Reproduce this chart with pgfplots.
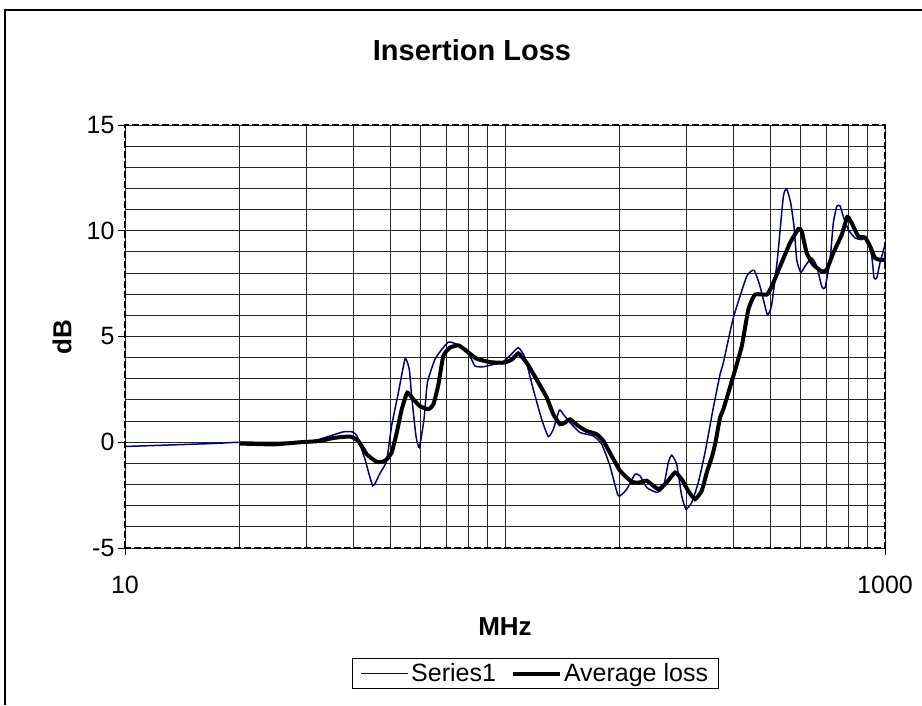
\documentclass[border=0pt]{standalone}
\usepackage{fontspec}
\setmainfont{Liberation Sans}
\usepackage{pgfplots}
\pgfplotsset{compat=1.18}
\definecolor{ser1}{RGB}{0,0,128}
\begin{document}
\begin{tikzpicture}
\path[use as bounding box] (-125pt,-157pt) rectangle (797pt,548pt);
\draw[line width=1.2pt] (-120pt,-157pt) -- (-120pt,538pt) -- (797pt,538pt);
\begin{axis}[
  at={(0pt,0pt)}, anchor=south west,
  scale only axis, width=760pt, height=423pt,
  xmode=log, xmin=10, xmax=1000, ymin=-5, ymax=15,
  xtick={10,1000}, xticklabels={10,1000},
  minor xtick={20,30,40,50,60,70,80,90,100,200,300,400,500,600,700,800,900},
  ytick={-5,0,5,10,15}, yticklabels={-5,0,5,10,15},
  minor ytick={-4,-3,-2,-1,1,2,3,4,6,7,8,9,11,12,13,14},
  xtick pos=left, ytick pos=left,
  grid=both,
  major grid style={black!85, line width=1pt},
  minor grid style={black!85, line width=1pt},
  tick align=outside, major tick length=7pt, minor tick length=0pt,
  tick style={black, solid, line width=1pt},
  axis line style={black, line width=1.3pt, dash pattern=on 7pt off 3pt},
  ticklabel style={font=\fontsize{25}{30}\selectfont},
  xticklabel style={yshift=-18pt},
  legend style={at={(0.540,-0.2967)}, anchor=center, draw=black, line width=1pt,
    font=\fontsize{25}{30}\selectfont, inner xsep=8pt, inner ysep=3pt},
  legend columns=2,
  legend cell align=left,
  legend image code/.code={\draw[#1] (0pt,0pt) -- (40pt,0pt); \path (0pt,0pt) -- (47pt,0pt);},
  /tikz/every even column/.append style={column sep=13pt},
]
\addplot[ser1, line width=1.5pt, smooth, tension=0.3] coordinates {
(10,-0.2) (17.0,-0.06) (20,0) (29.4,0) (32.6,0.15) (37.5,0.49) (39.6,0.49) (40.8,0.3)
(42.8,-0.8) (44.9,-2.06) (46.9,-1.46) (48.8,-0.88) (50.3,0.77) (52.4,2.34) (54.6,3.95)
(56.0,3.44) (56.8,2.18) (58.3,0.3) (59.5,-0.25) (61.2,1.08) (62.5,2.82) (65.4,3.92)
(68.2,4.39) (70.9,4.73) (73.1,4.7) (77.7,4.47) (80.9,4.07) (83.4,3.6) (87.7,3.57)
(93.2,3.68) (98.0,3.76) (103.1,4.1) (108.4,4.47) (112.9,4.0) (118.7,2.5) (124.9,1.08)
(130.0,0.27) (134.0,0.61) (139.0,1.52) (142.4,1.32) (148.3,0.93) (157.5,0.46) (170.8,0.3)
(179.7,-0.09) (188.9,-1.12) (198.7,-2.53) (209.1,-2.22) (219.9,-1.51) (226.6,-1.59)
(236.1,-2.14) (250.7,-2.37) (261.0,-2.14) (269.0,-0.96) (274.6,-0.61) (283.0,-1.04)
(291.7,-2.53) (299.4,-3.16) (310.0,-2.85) (322.7,-1.9) (336.0,-0.49) (353.4,1.64)
(368.1,3.21) (375.5,3.76) (398.9,5.88) (432.6,7.84) (452.2,8.13) (469.0,7.37) (490.2,6.04)
(503.3,6.51) (520.8,8.63) (540.1,11.62) (551.3,11.97) (564.8,11.31) (576.2,10.2)
(585.7,8.63) (600.1,8.03) (615.9,8.32) (641.4,8.71) (661.2,8.32) (681.5,7.37) (695.3,7.3)
(716.8,8.63) (731.1,10.36) (746.4,11.15) (761.5,11.18) (776.9,10.67) (800.8,10.05)
(834.0,9.66) (868.6,9.58) (895.2,9.66) (922.8,8.79) (935.8,7.77) (951.2,7.77) (970.1,8.48)
(1000,9.34)
};
\addlegendentry{Series1}
\addplot[black, line width=4pt, smooth, tension=0.3] coordinates {
(20,-0.06) (24.6,-0.1) (28.9,0) (32.6,0.06) (35.3,0.2) (39.1,0.27) (41.1,0.06) (43.3,-0.57)
(46.0,-0.93) (48.3,-0.88) (50.3,-0.49) (51.9,0.46) (53.5,1.56) (55.3,2.34) (57.4,2.03)
(59.7,1.71) (62.8,1.56) (64.8,1.79) (66.8,2.74) (68.8,4.07) (71.6,4.47) (75.4,4.58)
(79.3,4.31) (84.2,3.95) (91.4,3.79) (99.0,3.76) (104.1,3.9) (108.4,4.2) (114.0,3.76)
(121.1,2.97) (128.8,2.11) (134.0,1.32) (139.6,0.85) (143.9,0.93) (148.3,1.08) (155.9,0.77)
(164.1,0.53) (174.3,0.38) (181.5,0.06) (190.9,-0.65) (200.9,-1.35) (215.5,-1.87)
(226.6,-1.9) (236.1,-1.82) (253.2,-2.22) (266.4,-1.9) (280.2,-1.43) (291.7,-1.75)
(303.5,-2.3) (316.2,-2.69) (329.3,-2.3) (340.0,-1.4) (351.0,-0.65) (358.0,0.0)
(368.1,1.17) (375.5,1.56) (398.9,3.13) (419.8,4.54) (436.8,6.27) (454.9,6.98) (488.3,6.98)
(503.3,7.37) (529.7,8.32) (562.3,9.42) (591.4,10.08) (603.7,9.97) (622.2,8.95) (647.6,8.4)
(681.5,8.08) (702.6,8.16) (731.1,8.95) (769.4,9.81) (795.9,10.65) (817.5,10.36)
(850.8,9.73) (885.9,9.68) (914.1,9.26) (941.4,8.71) (970.1,8.63) (1000,8.63)
};
\addlegendentry{Average loss}
\end{axis}
\node[font=\bfseries\fontsize{29}{34}\selectfont] at (347pt,498pt) {Insertion Loss};
\node[rotate=90, font=\bfseries\fontsize{26}{31}\selectfont] at (-63pt,211pt) {dB};
\node[font=\bfseries\fontsize{26}{31}\selectfont] at (380pt,-79pt) {MHz};
\end{tikzpicture}
\end{document}
